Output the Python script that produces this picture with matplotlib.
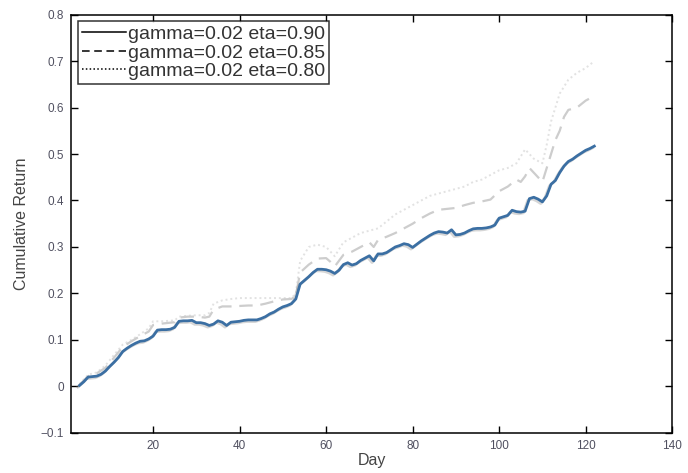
import matplotlib
matplotlib.use("Agg")
import matplotlib.pyplot as plt
import matplotlib.patheffects as pe
from matplotlib.lines import Line2D

plt.rcParams["font.family"] = ["Liberation Sans", "DejaVu Sans"]

labels = ["gamma=0.02 eta=0.90", "gamma=0.02 eta=0.85", "gamma=0.02 eta=0.80"]

days_90 = list(range(3, 123))
ret_90 = [
    0.002, 0.010, 0.020, 0.021, 0.022, 0.026, 0.033, 0.043, 0.052, 0.062,
    0.075, 0.082, 0.088, 0.093, 0.097, 0.098, 0.102, 0.108, 0.121, 0.122,
    0.122, 0.123, 0.127, 0.140, 0.141, 0.141, 0.142, 0.137, 0.137, 0.135,
    0.131, 0.134, 0.141, 0.138, 0.131, 0.138, 0.139, 0.140, 0.142, 0.143,
    0.143, 0.143, 0.146, 0.150, 0.156, 0.160, 0.166, 0.171, 0.174, 0.178,
    0.188, 0.220, 0.228, 0.236, 0.245, 0.252, 0.252, 0.251, 0.248, 0.243,
    0.250, 0.262, 0.266, 0.261, 0.264, 0.271, 0.276, 0.281, 0.270, 0.285,
    0.285, 0.288, 0.294, 0.300, 0.303, 0.307, 0.305, 0.299, 0.306, 0.313,
    0.319, 0.325, 0.330, 0.333, 0.332, 0.330, 0.337, 0.326, 0.327, 0.330,
    0.335, 0.339, 0.340, 0.340, 0.341, 0.343, 0.347, 0.362, 0.365, 0.368,
    0.379, 0.376, 0.375, 0.377, 0.404, 0.407, 0.403, 0.397, 0.410, 0.435,
    0.443, 0.460, 0.474, 0.484, 0.489, 0.496, 0.502, 0.508, 0.512, 0.517,
]

days_85 = [3, 5, 7, 9, 11, 13, 15, 17, 19, 20, 22, 25, 26, 28, 30, 32, 33, 34,
           36, 38, 40, 42, 44, 46, 48, 50, 52, 53, 54, 56, 58, 60, 61, 62, 64,
           66, 68, 70, 71, 72, 74, 76, 78, 80, 82, 84, 86, 88, 90, 92, 94, 96,
           98, 100, 102, 104, 105, 106, 107, 108, 110, 111, 112, 113, 114, 115,
           116, 118, 120, 122]
ret_85 = [0.003, 0.022, 0.028, 0.040, 0.062, 0.085, 0.097, 0.108, 0.118, 0.132,
          0.135, 0.138, 0.148, 0.150, 0.150, 0.148, 0.150, 0.165, 0.172, 0.172,
          0.173, 0.174, 0.174, 0.178, 0.183, 0.187, 0.188, 0.195, 0.245, 0.262,
          0.275, 0.276, 0.268, 0.258, 0.283, 0.290, 0.300, 0.310, 0.300, 0.315,
          0.322, 0.330, 0.340, 0.350, 0.362, 0.372, 0.380, 0.382, 0.384, 0.390,
          0.395, 0.398, 0.402, 0.420, 0.430, 0.445, 0.440, 0.452, 0.470, 0.460,
          0.440, 0.470, 0.500, 0.530, 0.550, 0.580, 0.595, 0.600, 0.615, 0.625]

days_80 = [3, 5, 7, 9, 11, 13, 15, 17, 19, 20, 22, 25, 26, 28, 30, 32, 33, 34,
           36, 38, 40, 44, 48, 52, 53, 54, 56, 58, 60, 61, 62, 64, 66, 68, 70,
           72, 74, 76, 78, 80, 82, 84, 86, 88, 90, 92, 94, 96, 98, 100, 102,
           104, 106, 107, 108, 110, 111, 112, 113, 114, 116, 118, 120, 122]
ret_80 = [0.005, 0.025, 0.030, 0.045, 0.068, 0.090, 0.100, 0.112, 0.125, 0.140,
          0.140, 0.142, 0.150, 0.152, 0.153, 0.153, 0.158, 0.178, 0.185, 0.188,
          0.190, 0.190, 0.190, 0.190, 0.200, 0.270, 0.300, 0.305, 0.300, 0.290,
          0.280, 0.310, 0.320, 0.330, 0.335, 0.340, 0.355, 0.370, 0.380, 0.390,
          0.400, 0.410, 0.415, 0.420, 0.425, 0.430, 0.440, 0.445, 0.455, 0.465,
          0.470, 0.480, 0.510, 0.500, 0.490, 0.480, 0.520, 0.570, 0.600, 0.630,
          0.660, 0.675, 0.685, 0.700]

fig = plt.figure(figsize=(6.88, 4.73), dpi=100)
ax = fig.add_axes([0.103, 0.085, 0.874, 0.884])

ax.plot(days_80, ret_80, color="#e2e2e2", lw=1.4, ls=(0, (1, 1.5)))
ax.plot(days_85, ret_85, color="#cdcdcd", lw=1.6, ls=(0, (6, 3.5)))
ax.plot(days_90, ret_90, color="#3b6fa3", lw=2.0,
        path_effects=[pe.SimpleLineShadow(offset=(-1.2, -1.2), shadow_color="0.55", alpha=0.35),
                      pe.Normal()])

ax.set_xlim(1, 140)
ax.set_ylim(-0.1, 0.8)
ax.set_xticks(range(20, 141, 20))
ax.set_yticks([-0.1, 0, 0.1, 0.2, 0.3, 0.4, 0.5, 0.6, 0.7, 0.8])
ax.set_yticklabels(["\u22120.1", "0", "0.1", "0.2", "0.3", "0.4", "0.5", "0.6", "0.7", "0.8"])
ax.tick_params(direction="in", top=True, right=True, length=5, width=1,
               labelsize=8.5, labelcolor="#505060", pad=5)
for s in ax.spines.values():
    s.set_linewidth(1.1)

ax.set_xlabel("Day", fontsize=11.5, color="#444444", labelpad=1)
ax.set_ylabel("Cumulative Return", fontsize=11.5, color="#444444", labelpad=8)

handles = [
    Line2D([], [], color="black", lw=1.1, ls="-"),
    Line2D([], [], color="black", lw=1.1, ls=(0, (5, 3))),
    Line2D([], [], color="black", lw=1.1, ls=(0, (1, 1.5))),
]
leg = ax.legend(handles, labels, loc="upper left", fontsize=14, frameon=True,
                fancybox=False, edgecolor="black", handlelength=2.3,
                handletextpad=0.1, borderpad=0.2, labelspacing=0.05,
                borderaxespad=0.35)
leg.get_frame().set_linewidth(1.1)
for t in leg.get_texts():
    t.set_color("#333333")

fig.savefig("out.png", dpi=100)
